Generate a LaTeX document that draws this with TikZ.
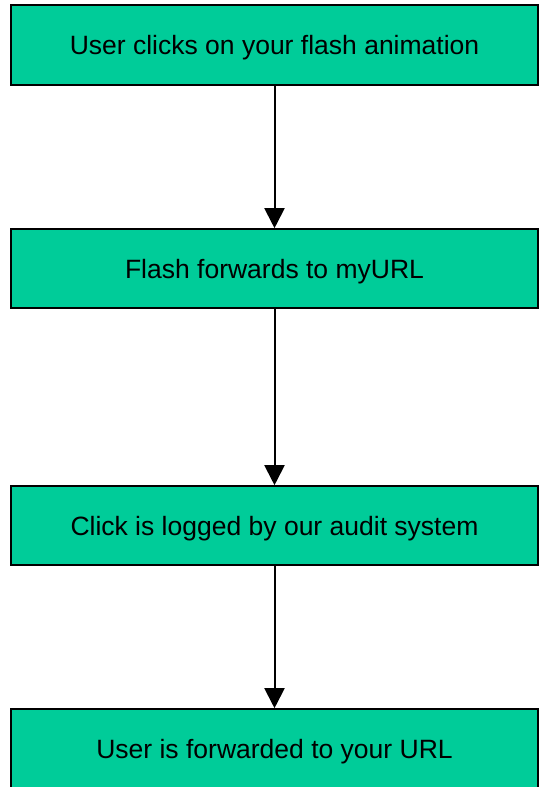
\documentclass[tikz,border=0pt]{standalone}
\usepackage{fontspec}
\setmainfont{Liberation Sans}
\usetikzlibrary{arrows.meta}
\definecolor{boxgreen}{HTML}{00CC99}
\begin{document}
\begin{tikzpicture}[x=1pt,y=-1pt,
  stepbox/.style={draw=black,line width=1.6pt,fill=boxgreen,minimum width=527pt,inner sep=0pt,text depth=0pt,font=\fontsize{26.5}{30}\selectfont},
  conn/.style={line width=2pt,-{Triangle[width=20pt,length=20pt]}}]
\useasboundingbox (0,0) rectangle (545,787);
\node[stepbox,minimum height=80pt] (a) at (274.5,45) {User clicks on your flash animation};
\node[stepbox,minimum height=79pt] (b) at (274.5,268.5) {Flash forwards to myURL};
\node[stepbox,minimum height=79pt] (c) at (274.5,525.5) {Click is logged by our audit system};
\node[stepbox,minimum height=79pt] (d) at (274.5,748.5) {User is forwarded to your URL};
\draw[conn] (a.south) -- (b.north);
\draw[conn] (b.south) -- (c.north);
\draw[conn] (c.south) -- (d.north);
\end{tikzpicture}
\end{document}
